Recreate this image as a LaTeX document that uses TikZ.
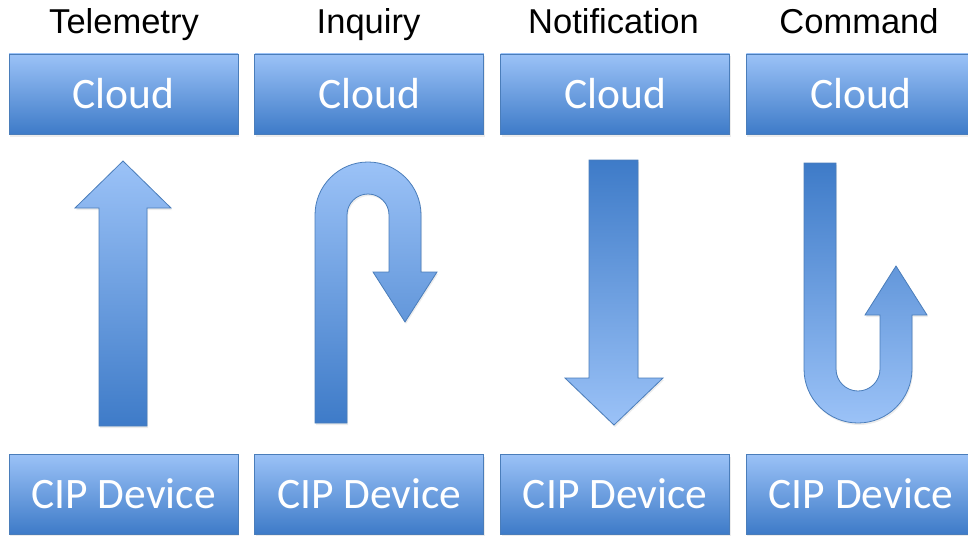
\documentclass[tikz,border=0pt]{standalone}
\usepackage{fontspec}
\usepackage{xcolor}
\usepackage{tikz}
\usetikzlibrary{positioning,shadows}
\newfontfamily\boxfont{Carlito}
\newfontfamily\lblfont{Liberation Sans}
\definecolor{bluelight}{RGB}{155,194,247}
\definecolor{bluedark}{RGB}{62,123,200}
\definecolor{blueedge}{RGB}{74,125,186}

\begin{document}
\begin{tikzpicture}[
  x=1pt, y=-1pt,
  node distance=15pt,
  box/.style={draw=blueedge, line width=0.8pt, top color=bluelight, bottom color=bluedark,
              minimum width=229pt, minimum height=80pt, inner sep=0pt,
              text=white, font=\boxfont\fontsize{43.5}{52}\selectfont,
              drop shadow={opacity=0.15, shadow xshift=1pt, shadow yshift=-2.5pt}},
  lbl/.style={anchor=base, inner sep=0pt, font=\lblfont\fontsize{34.5}{40}\selectfont},
  uparr/.style={draw=blueedge, line width=0.8pt, top color=bluelight, bottom color=bluedark,
                drop shadow={opacity=0.15, shadow xshift=1pt, shadow yshift=-2pt}},
  dnarr/.style={draw=blueedge, line width=0.8pt, top color=bluedark, bottom color=bluelight,
                drop shadow={opacity=0.15, shadow xshift=1pt, shadow yshift=-2pt}}
]
  \useasboundingbox (0,0) rectangle (968,535);
  % cloud row
  \node[box] (cloudT) at (123.5,94) {Cloud};
  \node[box, right=16pt of cloudT] (cloudI) {Cloud};
  \node[box, right=16pt of cloudI] (cloudN) {Cloud};
  \node[box, right=16pt of cloudN] (cloudC) {Cloud};
  % device row
  \node[box] (devT) at (123.5,494) {CIP Device};
  \node[box, right=16pt of devT] (devI) {CIP Device};
  \node[box, right=16pt of devI] (devN) {CIP Device};
  \node[box, right=16pt of devN] (devC) {CIP Device};
  % titles
  \node[lbl] (lblT) at (124,34) {Telemetry};
  \node[lbl] (lblI) at (368.5,34) {Inquiry};
  \node[lbl] (lblN) at (613.5,34) {Notification};
  \node[lbl] (lblC) at (859,34) {Command};
  % telemetry: straight up
  \path[uparr] (99,426) -- (99,208) -- (75,208) -- (123,161) -- (171,208)
    -- (147,208) -- (147,426) -- cycle;
  % inquiry: up and back down
  \path[uparr] (315,423) -- (315,215) arc (180:360:53) -- (421,272) -- (437,272)
    -- (405,322) -- (373,272) -- (389,272) -- (389,215) arc (0:-180:21)
    -- (347,423) -- cycle;
  % notification: straight down
  \path[dnarr] (589,160) -- (638,160) -- (638,378) -- (663,378) -- (614,425)
    -- (565,378) -- (589,378) -- cycle;
  % command: down and back up
  \path[dnarr] (804,163) -- (804,369) arc (180:0:54) -- (912,315) -- (927,315)
    -- (896,266) -- (865,315) -- (880,315) -- (880,369) arc (0:180:22)
    -- (836,163) -- cycle;
\end{tikzpicture}
\end{document}
